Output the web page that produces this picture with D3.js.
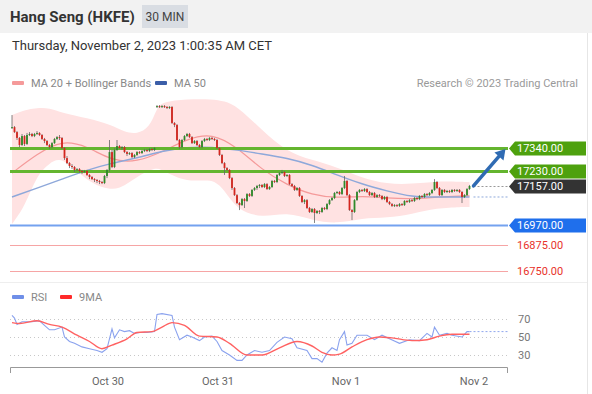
<!DOCTYPE html>
<html>
<head>
<meta charset="utf-8">
<script src="https://cdnjs.cloudflare.com/ajax/libs/d3/7.8.5/d3.min.js"></script>
<style>
  body { margin: 0; background: #fff; }
  svg { display: block; font-family: Roboto, "Liberation Sans", Arial, sans-serif; }
</style>
</head>
<body>
<div id="chart"></div>
<script>
// 30 min candles, Oct 29 evening -> Nov 2 01:00 CET
var opens = [17436,17440,17416,17388,17354,17397,17359,17402,17407,17397,
    17407,17412,17402,17383,17373,17354,17344,17363,17383,17392,
    17388,17339,17291,17267,17253,17248,17234,17238,17229,17224,
    17229,17210,17200,17190,17186,17181,17176,17171,17205,17234,
    17320,17248,17330,17349,17339,17344,17320,17311,17315,17296,
    17306,17320,17315,17325,17330,17325,17335,17330,17537,17541,
    17537,17541,17537,17532,17537,17460,17450,17378,17344,17378,
    17397,17407,17392,17363,17373,17354,17344,17373,17383,17378,
    17388,17383,17378,17339,17306,17267,17243,17234,17195,17147,
    17113,17075,17065,17094,17085,17118,17109,17138,17147,17157,
    17162,17152,17166,17142,17152,17181,17176,17210,17219,17224,
    17205,17210,17166,17157,17138,17147,17109,17080,17089,17051,
    17032,17046,17027,17037,17032,17051,17046,17070,17089,17099,
    17123,17128,17118,17147,17181,17113,17041,17032,17089,17128,
    17138,17133,17142,17128,17113,17123,17104,17113,17109,17094,
    17104,17080,17070,17061,17065,17061,17070,17065,17085,17080,
    17089,17085,17099,17094,17109,17104,17118,17113,17123,17138,
    17176,17147,17113,17138,17128,17133,17128,17138,17133,17138,
    17128,17104,17113,17142];
var highs = [17498,17445,17421,17392,17407,17402,17412,17416,17412,17412,
    17421,17416,17407,17388,17378,17359,17368,17388,17397,17402,
    17392,17344,17301,17272,17262,17253,17243,17243,17234,17234,
    17234,17214,17205,17195,17190,17186,17181,17210,17238,17378,
    17330,17339,17378,17354,17349,17349,17325,17320,17320,17311,
    17325,17325,17330,17335,17335,17339,17339,17344,17546,17546,
    17546,17546,17541,17541,17541,17464,17455,17383,17383,17402,
    17412,17412,17397,17378,17378,17359,17378,17388,17388,17392,
    17392,17388,17383,17344,17311,17272,17248,17238,17200,17152,
    17118,17080,17099,17099,17123,17123,17142,17152,17162,17166,
    17166,17171,17171,17157,17186,17186,17214,17224,17234,17229,
    17214,17214,17171,17162,17152,17152,17113,17094,17094,17056,
    17051,17051,17041,17041,17056,17056,17075,17094,17104,17128,
    17133,17133,17152,17205,17186,17118,17046,17094,17133,17142,
    17142,17147,17147,17133,17128,17128,17118,17118,17113,17109,
    17109,17085,17075,17070,17070,17075,17075,17089,17089,17094,
    17094,17104,17104,17113,17113,17123,17123,17128,17142,17190,
    17181,17152,17142,17142,17138,17138,17142,17142,17142,17142,
    17133,17118,17147,17162];
var lows = [17431,17412,17378,17344,17349,17349,17354,17397,17392,17392,
    17402,17397,17378,17363,17349,17335,17339,17359,17378,17378,
    17335,17282,17262,17243,17238,17224,17229,17219,17214,17219,
    17205,17190,17186,17176,17171,17166,17166,17166,17195,17224,
    17243,17243,17325,17335,17330,17315,17301,17306,17291,17291,
    17301,17311,17311,17320,17320,17320,17325,17325,17532,17532,
    17532,17532,17527,17527,17455,17440,17373,17335,17339,17373,
    17392,17388,17359,17359,17349,17339,17339,17368,17373,17373,
    17378,17373,17335,17301,17262,17210,17229,17190,17138,17109,
    17070,17041,17061,17051,17080,17104,17104,17133,17138,17147,
    17147,17147,17138,17138,17147,17171,17171,17205,17214,17200,
    17200,17162,17152,17133,17133,17104,17075,17070,17046,17027,
    17027,16979,17022,17022,17027,17041,17041,17065,17085,17094,
    17118,17113,17113,17142,17109,17037,16993,17027,17085,17123,
    17128,17128,17123,17109,17109,17099,17099,17104,17089,17089,
    17075,17065,17056,17056,17056,17056,17061,17061,17075,17075,
    17080,17080,17089,17089,17099,17099,17109,17109,17118,17133,
    17142,17109,17109,17123,17123,17123,17123,17128,17128,17123,
    17075,17099,17109,17138];
var closes = [17440,17416,17388,17354,17397,17359,17402,17407,17397,17407,
    17412,17402,17383,17373,17354,17344,17363,17383,17392,17388,
    17339,17291,17267,17253,17248,17234,17238,17229,17224,17229,
    17210,17200,17190,17186,17181,17176,17171,17205,17234,17320,
    17248,17330,17349,17339,17344,17320,17311,17315,17296,17306,
    17320,17315,17325,17330,17325,17335,17330,17339,17541,17537,
    17541,17537,17532,17537,17460,17450,17378,17344,17378,17397,
    17407,17392,17363,17373,17354,17344,17373,17383,17378,17388,
    17383,17378,17339,17306,17267,17243,17234,17195,17147,17113,
    17075,17065,17094,17085,17118,17109,17138,17147,17157,17162,
    17152,17166,17142,17152,17181,17176,17210,17219,17224,17205,
    17210,17166,17157,17138,17147,17109,17080,17089,17051,17032,
    17046,17027,17037,17032,17051,17046,17070,17089,17099,17123,
    17128,17118,17147,17181,17113,17041,17032,17089,17128,17138,
    17133,17142,17128,17113,17123,17104,17113,17109,17094,17104,
    17080,17070,17061,17065,17061,17070,17065,17085,17080,17089,
    17085,17099,17094,17109,17104,17118,17113,17123,17138,17176,
    17147,17113,17138,17128,17133,17128,17138,17133,17138,17128,
    17104,17113,17142,17157];

// Bollinger bands (read at candle index)
var bandIdx = [0,5,10,15,20,30,40,45,50,55,58,60,70,80,85,90,100,110,120,130,140,150,160,170,180,183];
var bandUpper = [17498,17522,17532,17532,17508,17484,17450,17416,17407,17436,17532,17561,17575,17575,17565,17541,17426,17320,17282,17248,17195,17166,17166,17181,17176,17176];
var bandLower = [16974,17056,17210,17267,17301,17176,17133,17157,17200,17234,17243,17234,17171,17195,17138,17041,17003,17032,16993,16974,17003,17003,17022,17051,17056,17056];

// moving averages
var maIdx = [0,10,20,30,40,50,60,70,80,90,100,110,120,130,140,150,160,170,180,183];
var ma20 = [17219,17311,17378,17349,17277,17272,17320,17383,17412,17344,17234,17162,17113,17099,17109,17099,17094,17104,17109,17109];
var ma50 = [17104,17147,17190,17234,17267,17291,17325,17344,17344,17330,17311,17291,17258,17210,17166,17133,17104,17104,17104,17104];

// key levels
var levels = [17340, 17230, 17157, 16970, 16875, 16750];
var levelKinds = ["res", "res", "last", "sup", "minor", "minor"];

// RSI panel
var rsiIdx = [0,1,2,4,8,11,13,15,17,20,21,23,25,28,31,34,36,38,40,41,43,45,47,49,51,54,57,58,60,64,65,67,70,72,75,77,80,82,84,87,90,92,94,97,100,103,106,109,112,114,118,120,122,124,126,128,130,131,133,134,136,138,142,145,148,151,155,159,163,166,168,169,171,174,176,180,182,183];
var rsiVal = [74,71,64,67,67,68,63,58,58,61,50,45,43,39,37,35,33,37,59,49,58,56,57,54,55,55,56,75,76,74,61,47,52,50,46,50,51,45,35,30,24,24,30,35,33,35,44,50,48,38,35,26,26,22,32,38,35,47,56,41,43,52,52,47,52,48,43,47,46,54,50,61,52,54,52,50,56,56];
var rsiMaIdx = [0,3,10,15,20,26,31,36,40,46,50,56,60,64,69,75,82,87,94,100,107,114,120,124,128,131,136,142,147,152,160,166,171,176,183];
var rsiMaVal = [66,65,68,64,61,52,45,37,41,48,55,56,61,66,63,51,50,43,30,30,38,45,40,33,30,31,39,47,50,49,46,47,51,53,53];
var rsiTicks = [70, 50, 30];

var dateLabels = ["Oct 30", "Oct 31", "Nov 1", "Nov 2"];
var datePos = [38.4, 82.4, 133.6, 184.8];

var width = 592, height = 394;
var plotLeft = 10, plotRight = 508;
var n = closes.length;

var svg = d3.select("#chart").append("svg")
    .attr("width", width)
    .attr("height", height);

var x = d3.scaleLinear().domain([0, n - 1]).range([12, 469.5]);
var y = d3.scaleLinear().domain([16700, 17580]).range([281, 98]);
var yr = d3.scaleLinear().domain([30, 70]).range([355, 319]);

// ---- header ----
svg.append("rect").attr("x", 0).attr("y", 0).attr("width", width).attr("height", 33).attr("fill", "#f2f2f2");
svg.append("text").attr("x", 10).attr("y", 22)
    .attr("font-size", "15px").attr("font-weight", "bold").attr("fill", "#333")
    .text("Hang Seng (HKFE)");
svg.append("rect").attr("x", 142).attr("y", 5).attr("width", 46).attr("height", 23).attr("fill", "#d9dde3");
svg.append("text").attr("x", 165).attr("y", 21).attr("text-anchor", "middle")
    .attr("font-size", "12px").attr("fill", "#444").text("30 MIN");
svg.append("text").attr("x", 12).attr("y", 50)
    .attr("font-size", "13px").attr("fill", "#333")
    .text("Thursday, November 2, 2023 1:00:35 AM CET");

svg.append("line").attr("x1", 587.5).attr("x2", 587.5).attr("y1", 33).attr("y2", height)
    .attr("stroke", "#e6e6e6");
svg.append("line").attr("x1", 0).attr("x2", 587).attr("y1", 282.5).attr("y2", 282.5)
    .attr("stroke", "#eeeeee");

// legends
function legendItem(lx, ly, color, label) {
    svg.append("rect").attr("x", lx).attr("y", ly - 2).attr("width", 12).attr("height", 4)
        .attr("rx", 1).attr("fill", color);
    svg.append("text").attr("x", lx + 19).attr("y", ly + 4)
        .attr("font-size", "11px").attr("fill", "#888").text(label);
}
legendItem(12, 83, "#f59a9a", "MA 20 + Bollinger Bands");
legendItem(155, 83, "#3b5ea8", "MA 50");
svg.append("text").attr("x", 578).attr("y", 87).attr("text-anchor", "end")
    .attr("font-size", "11px").attr("fill", "#999").text("Research \u00a9 2023 Trading Central");
legendItem(12, 297, "#6f8fe8", "RSI");
legendItem(60, 297, "#ff2a2a", "9MA");

// ---- price panel ----
svg.append("clipPath").attr("id", "clip")
    .append("rect").attr("x", plotLeft).attr("y", 95).attr("width", plotRight - plotLeft).attr("height", 186);
var plot = svg.append("g").attr("clip-path", "url(#clip)");

var band = bandIdx.map(function (d, i) { return { i: d, hi: bandUpper[i], lo: bandLower[i] }; });
plot.append("path").datum(band)
    .attr("d", d3.area()
        .x(function (d) { return x(d.i); })
        .y0(function (d) { return y(d.lo); })
        .y1(function (d) { return y(d.hi); })
        .curve(d3.curveBasis))
    .attr("fill", "#ffe2e2");

function maLine(vals, color, w) {
    var pts = maIdx.map(function (d, i) { return [x(d), y(vals[i])]; });
    plot.append("path").datum(pts)
        .attr("d", d3.line().curve(d3.curveBasis))
        .attr("fill", "none").attr("stroke", color).attr("stroke-width", w);
}
maLine(ma20, "#f59a9a", 1.2);
maLine(ma50, "#8ea8da", 1.4);

// level lines + labels
levels.forEach(function (v, k) {
    var kind = levelKinds[k];
    var ly = Math.round(y(v)) + 0.5;
    if (kind == "res") {
        svg.append("line").attr("x1", plotLeft).attr("x2", plotRight).attr("y1", ly).attr("y2", ly)
            .attr("stroke", "#64b52f").attr("stroke-width", 3);
    } else if (kind == "sup") {
        svg.append("line").attr("x1", plotLeft).attr("x2", plotRight).attr("y1", ly).attr("y2", ly)
            .attr("stroke", "#74a2ef").attr("stroke-width", 2);
    } else if (kind == "minor") {
        svg.append("line").attr("x1", plotLeft).attr("x2", plotRight).attr("y1", ly).attr("y2", ly)
            .attr("stroke", "#f6a5a5").attr("stroke-width", 1);
    } else {
        svg.append("line").attr("x1", x(n - 1) + 4).attr("x2", plotRight).attr("y1", ly).attr("y2", ly)
            .attr("stroke", "#999").attr("stroke-dasharray", "2,2");
    }

    if (kind == "minor") {
        svg.append("text").attr("x", 517).attr("y", ly).attr("dy", "0.36em")
            .attr("font-size", "11px").attr("fill", "#e8332a").text(v.toFixed(2));
        return;
    }
    var fill = kind == "res" ? "#4ea10e" : (kind == "sup" ? "#1f6fec" : "#333333");
    var x0 = 509, x1 = 586, hh = 7;
    svg.append("path")
        .attr("d", "M" + x0 + "," + ly + "L" + (x0 + 6) + "," + (ly - hh) + "L" + x1 + "," + (ly - hh) +
            "L" + x1 + "," + (ly + hh) + "L" + (x0 + 6) + "," + (ly + hh) + "Z")
        .attr("fill", fill);
    svg.append("text").attr("x", 517).attr("y", ly).attr("dy", "0.36em")
        .attr("font-size", "11px").attr("fill", "#fff").text(v.toFixed(2));
});

// MA50 extension
svg.append("line").attr("x1", x(n - 1) + 4).attr("x2", plotRight)
    .attr("y1", y(ma50[ma50.length - 1])).attr("y2", y(ma50[ma50.length - 1]))
    .attr("stroke", "#8ea8da").attr("stroke-dasharray", "2,2");

// candles
var candles = svg.append("g").selectAll("g")
    .data(closes.map(function (c, i) { return { i: i, o: opens[i], h: highs[i], l: lows[i], c: c }; }))
    .enter().append("g");
candles.append("line")
    .attr("x1", function (d) { return x(d.i); })
    .attr("x2", function (d) { return x(d.i); })
    .attr("y1", function (d) { return y(d.h); })
    .attr("y2", function (d) { return y(d.l); })
    .attr("stroke", "#666").attr("stroke-width", 0.8);
candles.append("rect")
    .attr("x", function (d) { return x(d.i) - 0.9; })
    .attr("width", 1.8)
    .attr("y", function (d) { return y(Math.max(d.o, d.c)); })
    .attr("height", function (d) { return Math.max(1, Math.abs(y(d.o) - y(d.c))); })
    .attr("fill", function (d) {
        if (d.c > d.o) return "#2f8a2a";
        else if (d.c < d.o) return "#d3261f";
        return "#666";
    });

// arrow towards first target
var ax0 = x(n - 1) + 4, ay0 = y(closes[n - 1]);
var ax1 = x(n - 1) + 36, ay1 = y(levels[0]) + 1;
var dx = ax1 - ax0, dy = ay1 - ay0, len = Math.sqrt(dx * dx + dy * dy);
var ux = dx / len, uy = dy / len;
var bx = ax1 - ux * 10, by = ay1 - uy * 10;
svg.append("line").attr("x1", ax0).attr("y1", ay0).attr("x2", bx).attr("y2", by)
    .attr("stroke", "#2f6bb3").attr("stroke-width", 3.5).attr("stroke-linecap", "round");
svg.append("path")
    .attr("d", "M" + ax1 + "," + ay1 + "L" + (bx - uy * 6) + "," + (by + ux * 6) +
        "L" + (bx + uy * 6) + "," + (by - ux * 6) + "Z")
    .attr("fill", "#2f6bb3");

// ---- RSI panel ----
svg.selectAll(".rsigrid").data(rsiTicks).enter().append("line")
    .attr("class", "rsigrid")
    .attr("x1", plotLeft).attr("x2", plotRight)
    .attr("y1", function (d) { return Math.round(yr(d)) + 0.5; })
    .attr("y2", function (d) { return Math.round(yr(d)) + 0.5; })
    .attr("stroke", "#c8c8c8").attr("stroke-dasharray", "1,3");
svg.selectAll(".rsilab").data(rsiTicks).enter().append("text")
    .attr("class", "rsilab")
    .attr("x", 518).attr("y", function (d) { return yr(d); }).attr("dy", "0.36em")
    .attr("font-size", "11px").attr("fill", "#777").text(function (d) { return d; });

svg.append("line").attr("x1", x(n - 1)).attr("x2", plotRight)
    .attr("y1", yr(rsiVal[rsiVal.length - 1])).attr("y2", yr(rsiVal[rsiVal.length - 1]))
    .attr("stroke", "#8fa6ee").attr("stroke-dasharray", "2,2");

svg.append("path").datum(rsiIdx.map(function (d, i) { return [x(d), yr(rsiVal[i])]; }))
    .attr("d", d3.line())
    .attr("fill", "none").attr("stroke", "#8aa2ee").attr("stroke-width", 1.1);
svg.append("path").datum(rsiMaIdx.map(function (d, i) { return [x(d), yr(rsiMaVal[i])]; }))
    .attr("d", d3.line().curve(d3.curveMonotoneX))
    .attr("fill", "none").attr("stroke", "#ff6262").attr("stroke-width", 1.4);

// time axis
svg.append("path")
    .attr("d", "M" + (plotLeft + 0.5) + ",373V367.5H" + (plotRight - 0.5) + "V373")
    .attr("fill", "none").attr("stroke", "#999");
svg.selectAll(".datelab").data(dateLabels).enter().append("text")
    .attr("class", "datelab")
    .attr("x", function (d, i) { return x(datePos[i]); })
    .attr("y", 385)
    .attr("text-anchor", "middle")
    .attr("font-size", "11px").attr("fill", "#666")
    .text(function (d) { return d; });
</script>
</body>
</html>
